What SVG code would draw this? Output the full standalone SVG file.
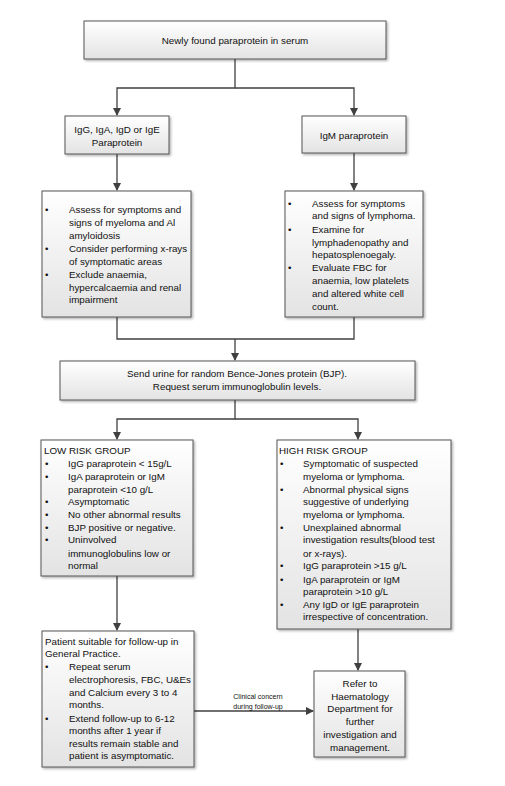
<svg xmlns="http://www.w3.org/2000/svg" width="505" height="786" viewBox="0 0 505 786">
<defs>
<linearGradient id="g" x1="0" y1="0" x2="0" y2="1">
<stop offset="0" stop-color="#ffffff"/>
<stop offset="1" stop-color="#e3e3e3"/>
</linearGradient>
<marker id="ah" markerWidth="8" markerHeight="8" refX="7" refY="4" orient="auto" markerUnits="userSpaceOnUse">
<path d="M0,0 L8,4 L0,8 Z" fill="#404040"/>
</marker>
<filter id="sh" x="-5%" y="-5%" width="115%" height="115%">
<feDropShadow dx="1.5" dy="1.5" stdDeviation="0.8" flood-color="#000" flood-opacity="0.3"/>
</filter>
</defs>
<style>
.box{fill:url(#g);stroke:#555;stroke-width:1;filter:url(#sh)}
text{font-family:"Liberation Sans",Arial,sans-serif;font-size:9.8px;fill:#111}
.c{text-anchor:middle}
.s{font-size:7px}
.ln{fill:none;stroke:#404040;stroke-width:1.3}
</style>
<rect width="505" height="786" fill="#fff"/>
<g id="connectors">
<path class="ln" d="M235,59 V88 H117 V115" marker-end="url(#ah)"/>
<path class="ln" d="M235,88 H354 V115" marker-end="url(#ah)"/>
<path class="ln" d="M117,154 V190" marker-end="url(#ah)"/>
<path class="ln" d="M354,153 V190" marker-end="url(#ah)"/>
<path class="ln" d="M117,317 V339 H354 V317"/>
<path class="ln" d="M235,339 V360" marker-end="url(#ah)"/>
<path class="ln" d="M235,400 V419 H117 V439" marker-end="url(#ah)"/>
<path class="ln" d="M235,419 H358 V439" marker-end="url(#ah)"/>
<path class="ln" d="M117,576 V630" marker-end="url(#ah)"/>
<path class="ln" d="M358,629 V670" marker-end="url(#ah)"/>
<path class="ln" d="M194,711 H313" marker-end="url(#ah)"/>
<text class="c s" x="258" y="699">Clinical concern</text>
<text class="c s" x="258" y="709">during follow-up</text>
</g>
<g id="n1">
<rect class="box" x="84" y="21" width="302" height="38"/>
<text class="c" x="235" y="43.5">Newly found paraprotein in serum</text>
</g>
<g id="n2">
<rect class="box" x="65" y="116" width="104" height="38"/>
<text class="c" x="117" y="132.5">IgG, IgA, IgD or IgE</text>
<text class="c" x="117" y="145.5">Paraprotein</text>
</g>
<g id="n3">
<rect class="box" x="302" y="116" width="104" height="37"/>
<text class="c" x="354" y="138.5">IgM paraprotein</text>
</g>
<g id="n4">
<rect class="box" x="42" y="191" width="149" height="126"/>
<text x="45" y="213">•</text><text x="69" y="213">Assess for symptoms and</text>
<text x="69" y="225.8">signs of myeloma and Al</text>
<text x="69" y="238.5">amyloidosis</text>
<text x="45" y="251.5">•</text><text x="69" y="251.5">Consider performing x-rays</text>
<text x="69" y="264.5">of symptomatic areas</text>
<text x="45" y="277.5">•</text><text x="69" y="277.5">Exclude anaemia,</text>
<text x="69" y="290.5">hypercalcaemia and renal</text>
<text x="69" y="302.5">impairment</text>
</g>
<g id="n5">
<rect class="box" x="285" y="191" width="138" height="126"/>
<text x="288" y="206.5">•</text><text x="312" y="206.5">Assess for symptoms</text>
<text x="312" y="219">and signs of lymphoma.</text>
<text x="288" y="232.5">•</text><text x="312" y="232.5">Examine for</text>
<text x="312" y="245.5">lymphadenopathy and</text>
<text x="312" y="258">hepatosplenoegaly.</text>
<text x="288" y="271">•</text><text x="312" y="271">Evaluate FBC for</text>
<text x="312" y="283.8">anaemia, low platelets</text>
<text x="312" y="296.5">and altered white cell</text>
<text x="312" y="309.5">count.</text>
</g>
<g id="n6">
<rect class="box" x="60" y="361" width="355" height="39"/>
<text class="c" x="237" y="377">Send urine for random Bence-Jones protein (BJP).</text>
<text class="c" x="237" y="390">Request serum immunoglobulin levels.</text>
</g>
<g id="n7">
<rect class="box" x="41" y="440" width="152" height="136"/>
<text x="44" y="453.5">LOW RISK GROUP</text>
<text x="45" y="466.5">•</text><text x="68" y="466.5">IgG paraprotein &lt; 15g/L</text>
<text x="45" y="479.5">•</text><text x="68" y="479.5">IgA paraprotein or IgM</text>
<text x="68" y="492.5">paraprotein &lt;10 g/L</text>
<text x="45" y="504.5">•</text><text x="68" y="504.5">Asymptomatic</text>
<text x="45" y="517.5">•</text><text x="68" y="517.5">No other abnormal results</text>
<text x="45" y="530.5">•</text><text x="68" y="530.5">BJP positive or negative.</text>
<text x="45" y="543">•</text><text x="68" y="543">Uninvolved</text>
<text x="68" y="556.5">immunoglobulins low or</text>
<text x="68" y="569">normal</text>
</g>
<g id="n8">
<rect class="box" x="277" y="440" width="174" height="189"/>
<text x="279" y="453.5">HIGH RISK GROUP</text>
<text x="280" y="466.5">•</text><text x="303" y="466.5">Symptomatic of suspected</text>
<text x="303" y="479.5">myeloma or lymphoma.</text>
<text x="280" y="492.5">•</text><text x="303" y="492.5">Abnormal physical signs</text>
<text x="303" y="504.5">suggestive of underlying</text>
<text x="303" y="517.5">myeloma or lymphoma.</text>
<text x="280" y="530.5">•</text><text x="303" y="530.5">Unexplained abnormal</text>
<text x="303" y="543">investigation results(blood test</text>
<text x="303" y="556.5">or x-rays).</text>
<text x="280" y="569">•</text><text x="303" y="569">IgG paraprotein &gt;15 g/L</text>
<text x="280" y="582.5">•</text><text x="303" y="582.5">IgA paraprotein or IgM</text>
<text x="303" y="594.5">paraprotein &gt;10 g/L</text>
<text x="280" y="607.8">•</text><text x="303" y="607.8">Any IgD or IgE paraprotein</text>
<text x="303" y="620">irrespective of concentration.</text>
</g>
<g id="n9">
<rect class="box" x="42" y="631" width="152" height="136"/>
<text x="45" y="644.5">Patient suitable for follow-up in</text>
<text x="45" y="657">General Practice.</text>
<text x="45" y="669.8">•</text><text x="69" y="669.8">Repeat serum</text>
<text x="69" y="682.5">electrophoresis, FBC, U&amp;Es</text>
<text x="69" y="695.5">and Calcium every 3 to 4</text>
<text x="69" y="708">months.</text>
<text x="45" y="721.5">•</text><text x="69" y="721.5">Extend follow-up to 6-12</text>
<text x="69" y="734">months after 1 year if</text>
<text x="69" y="746.5">results remain stable and</text>
<text x="69" y="759">patient is asymptomatic.</text>
</g>
<g id="n10">
<rect class="box" x="314" y="671" width="91" height="86"/>
<text class="c" x="360" y="686.5">Refer to</text>
<text class="c" x="360" y="699.8">Haematology</text>
<text class="c" x="360" y="711.5">Department for</text>
<text class="c" x="360" y="724.5">further</text>
<text class="c" x="360" y="737.8">investigation and</text>
<text class="c" x="360" y="750.5">management.</text>
</g>
</svg>
